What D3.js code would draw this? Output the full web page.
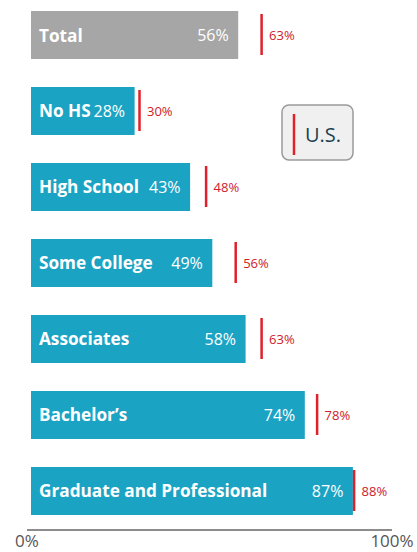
<!DOCTYPE html>
<html><head><meta charset="utf-8">
<script src="https://cdn.jsdelivr.net/npm/d3@7"></script>
<style>body{margin:0;background:#fff;}svg{display:block;}</style>
</head><body>
<svg id="c" width="417" height="552"></svg>
<script>
const categories = ["Total","No HS","High School","Some College","Associates","Bachelor\u2019s","Graduate and Professional"];
const stateValues = [56,28,43,49,58,74,87];
const usValues = [63,30,48,56,63,78,88];
const axisTicks = ["0%","100%"];

const svg = d3.select("#c");
const font = "'Open Sans', sans-serif";
const x = d3.scaleLinear().domain([0,100]).range([31,401]);
const xAxis = d3.scaleLinear().domain([0,100]).range([27,392]);
const y = d3.scaleBand().domain(categories).range([11,515]).paddingInner(0.3684).paddingOuter(0);

const rows = svg.selectAll("g.row").data(categories).join("g").attr("class","row")
  .attr("transform", d => `translate(0,${y(d)})`);
const bh = y.bandwidth();

rows.append("rect").attr("x", x(0)).attr("y",0)
  .attr("width",(d,i)=>x(stateValues[i])-x(0)).attr("height",bh)
  .attr("fill",(d,i)=> i===0 ? "#a6a6a6" : "#1ba3c4");

rows.append("text").attr("x", x(0)+8).attr("y", bh/2+6.5)
  .attr("font-family",font).attr("font-weight",700).attr("font-size",17.2)
  .attr("fill","#fff").text(d=>d);

rows.append("text").attr("x",(d,i)=>x(stateValues[i])-9.5).attr("y", bh/2+6)
  .attr("text-anchor","end").attr("font-family",font).attr("font-size",16)
  .attr("fill","#fff").text((d,i)=>stateValues[i]+"%");

rows.append("line").attr("x1",(d,i)=>x(usValues[i])-2.5).attr("x2",(d,i)=>x(usValues[i])-2.5)
  .attr("y1",3).attr("y2",bh-4).attr("stroke","#e0202a").attr("stroke-width",2.5);

rows.append("text").attr("x",(d,i)=>x(usValues[i])+5).attr("y", bh/2+5)
  .attr("font-family",font).attr("font-size",13)
  .attr("fill","#d0202a").text((d,i)=>usValues[i]+"%");

// axis
svg.append("line").attr("x1",xAxis(0)).attr("x2",xAxis(100)).attr("y1",530).attr("y2",530)
  .attr("stroke","#8c8c8c").attr("stroke-width",2);
svg.selectAll("text.tick").data(axisTicks).join("text").attr("class","tick")
  .attr("x",(d,i)=>xAxis(i*100)).attr("y",547).attr("text-anchor","middle")
  .attr("font-family",font).attr("font-size",17).attr("fill","#555").text(d=>d);

// legend
const lg = svg.append("g").attr("transform","translate(282,105)");
lg.append("rect").attr("width",71).attr("height",55).attr("rx",7)
  .attr("fill","#f0f0f0").attr("stroke","#9a9a9a").attr("stroke-width",1.5);
lg.append("line").attr("x1",12).attr("x2",12).attr("y1",9).attr("y2",50)
  .attr("stroke","#e0202a").attr("stroke-width",2.5);
lg.append("text").attr("x",23).attr("y",37).attr("font-family",font).attr("font-size",20)
  .attr("fill","#1d3f50").text("U.S.");
</script>
</body></html>
